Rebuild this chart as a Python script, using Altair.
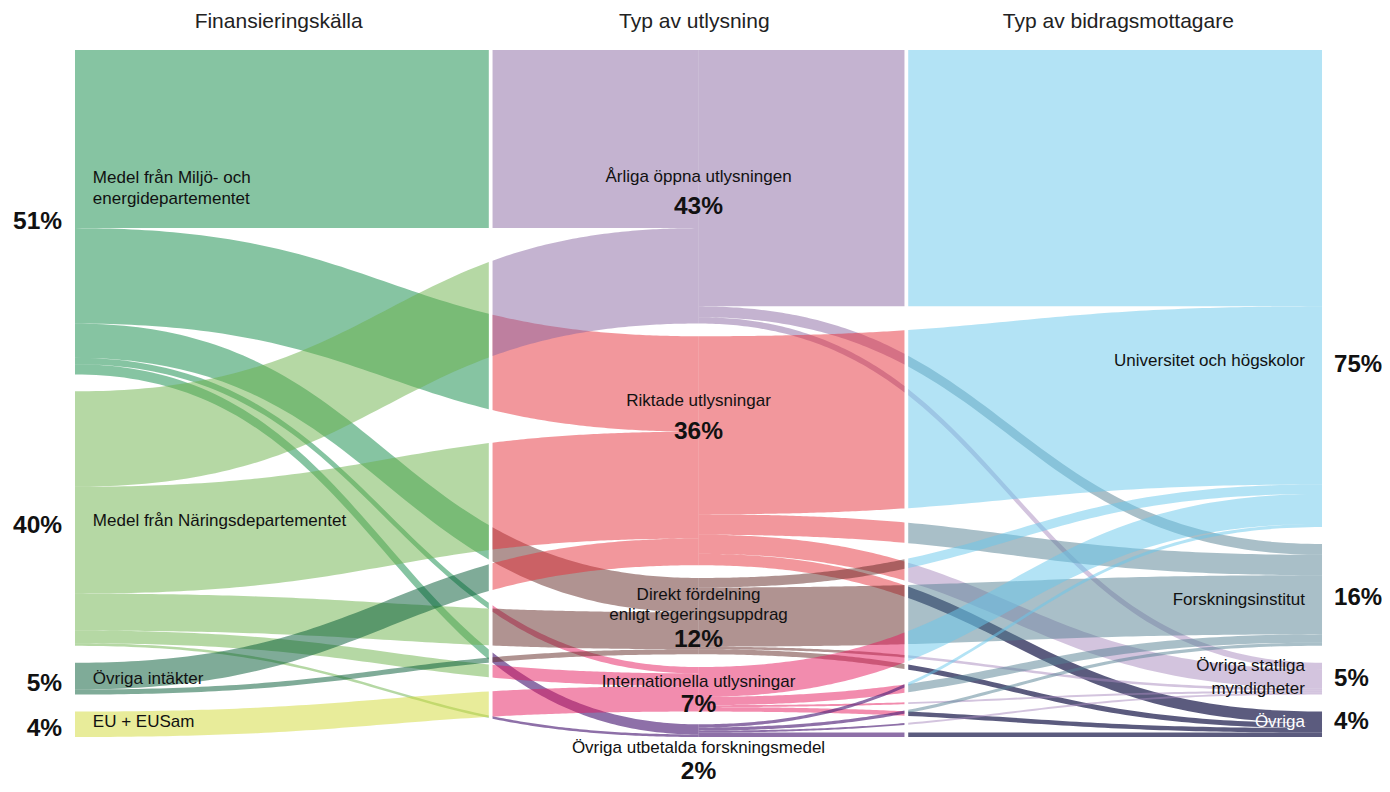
import altair as alt
import numpy as np
import pandas as pd

# ---------------- data (percent of total) ----------------
headers = ["Finansieringskälla", "Typ av utlysning", "Typ av bidragsmottagare"]

sources = ["Medel från Miljö- och\nenergidepartementet", "Medel från Näringsdepartementet",
           "Övriga intäkter", "EU + EUSam"]
source_share = [51, 40, 5, 4]

types = ["Årliga öppna utlysningen", "Riktade utlysningar",
         "Direkt fördelning\nenligt regeringsuppdrag", "Internationella utlysningar",
         "Övriga utbetalda forskningsmedel"]
type_share = [43, 36, 12, 7, 2]

recipients = ["Universitet och högskolor", "Forskningsinstitut",
              "Övriga statliga\nmyndigheter", "Övriga"]
recipient_share = [75, 16, 5, 4]

# stage 1 flows: source -> type (ordered as `types`)
miljo_to_type = [28.0, 15.0, 5.4, 1.0, 1.6]
narings_to_type = [15.0, 16.8, 5.8, 2.0, 0.4]
ovriga_intakter_to_type = [0.0, 4.2, 0.8, 0.0, 0.0]
eu_to_type = [0.0, 0.0, 0.0, 4.0, 0.0]

# stage 2 flows: type -> recipient (ordered as `recipients`)
arliga_to_rec = [40.3, 1.7, 1.0, 0.0]
riktade_to_rec = [28.0, 3.2, 3.0, 1.8]
direkt_to_rec = [1.5, 9.3, 0.4, 0.8]
internationella_to_rec = [4.7, 1.3, 0.3, 0.7]
ovriga_utb_to_rec = [0.5, 0.5, 0.3, 0.7]

stage1 = [miljo_to_type, narings_to_type, ovriga_intakter_to_type, eu_to_type]
stage2 = [arliga_to_rec, riktade_to_rec, direkt_to_rec, internationella_to_rec, ovriga_utb_to_rec]

# ---------------- styles ----------------
source_colors = ["#0d8945", "#6bb149", "#005731", "#d1d935"]
source_op = [0.5, 0.5, 0.5, 0.5]
type_colors = ["#8967a1", "#e52f39", "#612723", "#e5195d", "#51237a"]
type_op = [0.5, 0.5, 0.5, 0.5, 0.65]
rec_colors = ["#67c7eb", "#537f91", "#a789bd", "#161647"]
rec_op = [0.5, 0.5, 0.5, 0.7]

FONT = "Liberation Sans"
W, H = 1374, 776
PX_X = 415.67          # pixels per panel unit
KY = 6.361             # pixels per percent unit
X_MIN = -67 / PX_X
X_MAX = X_MIN + W / PX_X
Y_MIN = -42 / KY
Y_MAX = Y_MIN + H / KY
TOTAL = 108.0          # 100 % plus node padding
COL_X = [0.0, 1.5, 3.0]
GAP = 0.0045           # half width of the white panel separators


def stack(shares):
    gap = (TOTAL - sum(shares)) / (len(shares) - 1)
    tops, y = [], 0.0
    for s in shares:
        tops.append(y)
        y += s + gap
    return tops


src_top = stack(source_share)
typ_top = stack(type_share)
rec_top = stack(recipient_share)

T = np.linspace(0, 1, 4001)
XF = 1.5 * T * (1 - T) + T ** 3


def ribbon(x0, x1, ys, yt, w, pieces, rows, key):
    for k, (xa, xb, col, op) in enumerate(pieces):
        xs = np.linspace(xa, xb, 60)
        t = np.interp((xs - x0) / (x1 - x0), XF, T)
        f = 3 * t ** 2 - 2 * t ** 3
        top = ys + (yt - ys) * f
        for xv, tv in zip(xs, top):
            rows.append({"seg": f"{key}_{k}", "x": xv, "y": tv, "y2": tv + w, "fill": col, "op": op})


def place(flows, s_top, t_top, n_t):
    s_cur, t_cur = list(s_top), list(t_top)
    pos = {}
    for i, fl in enumerate(flows):
        for j, v in enumerate(fl):
            if v > 0:
                pos[(i, j)] = [s_cur[i], None, v]
                s_cur[i] += v
    for j in range(n_t):
        for i in range(len(flows)):
            if (i, j) in pos:
                pos[(i, j)][1] = t_cur[j]
                t_cur[j] += pos[(i, j)][2]
    return pos


rows = []
for (i, j), (ys, yt, v) in place(stage1, src_top, typ_top, len(types)).items():
    pieces = [(COL_X[0], 1 - GAP, source_colors[i], source_op[i]),
              (1 + GAP, COL_X[1], type_colors[j], type_op[j])]
    ribbon(COL_X[0], COL_X[1], ys, yt, v, pieces, rows, f"a{i}{j}")
for (i, j), (ys, yt, v) in place(stage2, typ_top, rec_top, len(recipients)).items():
    pieces = [(COL_X[1], 2 - GAP, type_colors[i], type_op[i]),
              (2 + GAP, COL_X[2], rec_colors[j], rec_op[j])]
    ribbon(COL_X[1], COL_X[2], ys, yt, v, pieces, rows, f"b{i}{j}")

df = pd.DataFrame(rows)

xs = alt.Scale(domain=[X_MIN, X_MAX], nice=False, zero=False)
ysc = alt.Scale(domain=[Y_MIN, Y_MAX], nice=False, zero=False, reverse=True)

areas = alt.Chart(df).mark_area(interpolate="linear").encode(
    x=alt.X("x:Q", scale=xs, axis=None),
    y=alt.Y("y:Q", scale=ysc, axis=None, stack=None),
    y2="y2:Q",
    detail="seg:N",
    color=alt.Color("fill:N", scale=None),
    opacity=alt.Opacity("op:Q", scale=None),
)

# ---------------- labels ----------------
def centers(tops, shares):
    return [t + s / 2 for t, s in zip(tops, shares)]


px = 1 / KY
sc = centers(src_top, source_share)
tc = centers(typ_top, type_share)
rc = centers(rec_top, recipient_share)

# label offsets (first text line) from node centres, in pixels
src_name_dy = [-34, 2, 0, -2]
src_pct_dy = [10, 7, 5, 5]
typ_name_dy = [-10, -50, -21, -7, 17]
typ_pct_dy = [20, -19, 24, 16, 41]
rec_name_dy = [72, 5, -13, -2]
rec_pct_dy = [76, 3, 0, -2]


def lab(xv, ys_, texts):
    return pd.DataFrame({"x": xv, "y": ys_, "t": texts})


hdr = lab([0.49, 1.49, 2.51], [(22 - 50) * px] * 3, headers)
src_names = lab([0.043] * 4, [c + d * px for c, d in zip(sc, src_name_dy)], sources)
src_pcts = lab([-0.031] * 4, [c + d * px for c, d in zip(sc, src_pct_dy)], [f"{v}%" for v in source_share])
typ_names = lab([1.5] * 5, [c + d * px for c, d in zip(tc, typ_name_dy)], types)
typ_pcts = lab([1.5] * 5, [c + d * px for c, d in zip(tc, typ_pct_dy)], [f"{v}%" for v in type_share])
rec_names = lab([2.959] * 3, [c + d * px for c, d in zip(rc[:3], rec_name_dy[:3])], recipients[:3])
rec_white = lab([2.959], [rc[3] + rec_name_dy[3] * px], recipients[3:])
rec_pcts = lab([3.029] * 4, [c + d * px for c, d in zip(rc, rec_pct_dy)], [f"{v}%" for v in recipient_share])


def text_layer(d, align, size, weight="normal", color="#111111", lh=21):
    return alt.Chart(d).mark_text(align=align, baseline="middle", font=FONT, fontSize=size,
                                  fontWeight=weight, color=color, lineBreak="\n", lineHeight=lh).encode(
        x=alt.X("x:Q", scale=xs, axis=None),
        y=alt.Y("y:Q", scale=ysc, axis=None),
        text="t:N",
    )


chart = alt.layer(
    areas,
    text_layer(hdr, "center", 21, "normal", "#222222"),
    text_layer(src_names, "left", 17),
    text_layer(src_pcts, "right", 24.5, "bold"),
    text_layer(typ_names, "center", 17, lh=20),
    text_layer(typ_pcts, "center", 24.5, "bold"),
    text_layer(rec_names, "right", 17, lh=23),
    text_layer(rec_white, "right", 17, "normal", "#ffffff"),
    text_layer(rec_pcts, "left", 24, "bold"),
).properties(
    width=W, height=H, padding=0, autosize=alt.AutoSizeParams(type="none"), background="white"
).configure_view(stroke=None)

chart.save("out.html", embed_options={"renderer": "svg", "actions": False})
